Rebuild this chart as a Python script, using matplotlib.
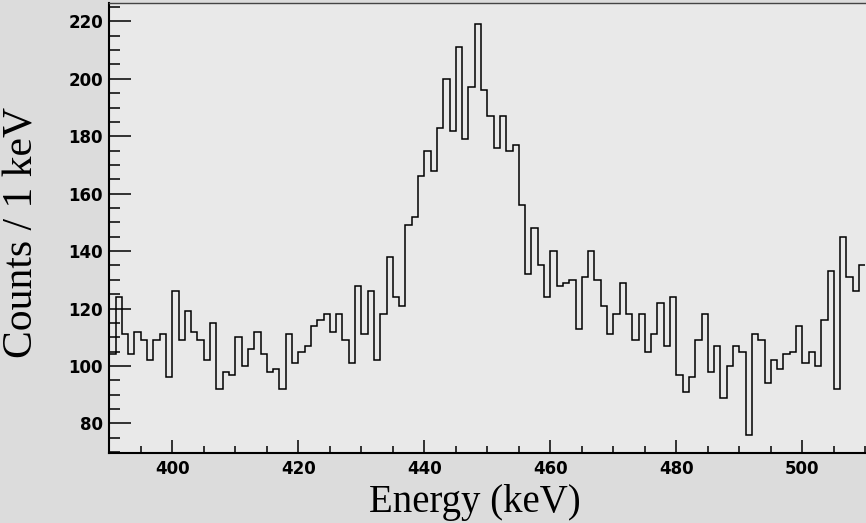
import numpy as np
import matplotlib
matplotlib.use("Agg")
import matplotlib.pyplot as plt
from matplotlib.ticker import MultipleLocator

# Histogram: 1 keV bins from 390 to 510 keV
bin_start = 390
bin_width = 1
counts = [
    104, 124, 111, 104, 112, 109, 102, 109, 111, 96,    # 390-399
    126, 109, 119, 112, 109, 102, 115, 92, 98, 97,      # 400-409
    110, 100, 106, 112, 104, 98, 99, 92, 111, 101,      # 410-419
    105, 107, 114, 116, 118, 112, 118, 109, 101, 128,   # 420-429
    111, 126, 102, 118, 138, 124, 121, 149, 152, 166,   # 430-439
    175, 168, 183, 200, 182, 211, 179, 197, 219, 196,   # 440-449
    187, 176, 187, 175, 177, 156, 132, 148, 135, 124,   # 450-459
    140, 128, 129, 130, 113, 131, 140, 130, 121, 111,   # 460-469
    118, 129, 118, 109, 118, 105, 111, 122, 107, 124,   # 470-479
    97, 91, 96, 109, 118, 98, 107, 89, 100, 107,        # 480-489
    105, 76, 111, 109, 94, 102, 99, 104, 105, 114,      # 490-499
    101, 105, 100, 116, 133, 92, 145, 131, 126, 135,    # 500-509
]
x_major_ticks = [400, 420, 440, 460, 480, 500]
y_major_ticks = [80, 100, 120, 140, 160, 180, 200, 220]

edges = bin_start + bin_width * np.arange(len(counts) + 1)

fig = plt.figure(figsize=(8.66, 5.23), dpi=100, facecolor="#dcdcdc")
ax = fig.add_axes([0.1262, 0.1344, 0.8738, 0.8604])
ax.set_facecolor("#e9e9e9")

ax.stairs(counts, edges, baseline=None, color="black", linewidth=1.1)

ax.set_xlim(390, 510.1)
ax.set_ylim(69.8, 226.5)

ax.set_xticks(x_major_ticks)
ax.set_yticks(y_major_ticks)
ax.xaxis.set_minor_locator(MultipleLocator(5))
ax.yaxis.set_minor_locator(MultipleLocator(5))

ax.tick_params(axis="both", which="both", direction="in", top=False, right=False,
               width=1.1, color="black")
ax.tick_params(axis="y", which="major", length=15.8, pad=4.5)
ax.tick_params(axis="y", which="minor", length=7.9)
ax.tick_params(axis="x", which="major", length=9.1, pad=5.5)
ax.tick_params(axis="x", which="minor", length=4.8)

for lab in ax.get_xticklabels() + ax.get_yticklabels():
    lab.set_fontfamily("DejaVu Sans")
    lab.set_fontweight("bold")
    lab.set_fontsize(12)

ax.spines["left"].set_linewidth(1.5)
ax.spines["bottom"].set_linewidth(1.5)
ax.spines["top"].set_linewidth(1.0)
ax.spines["top"].set_color("#444444")
ax.spines["right"].set_visible(False)

ax.set_xlabel("Energy (keV)", family="Liberation Serif", fontsize=28)
ax.set_ylabel("Counts / 1 keV", family="Liberation Serif", fontsize=30)
ax.xaxis.set_label_coords((475 - 109.3) / (866 - 109.3), -0.069)
ax.yaxis.set_label_coords((42 - 109.3) / (866 - 109.3), 0.49)

fig.savefig("out.png", dpi=100, facecolor=fig.get_facecolor())
